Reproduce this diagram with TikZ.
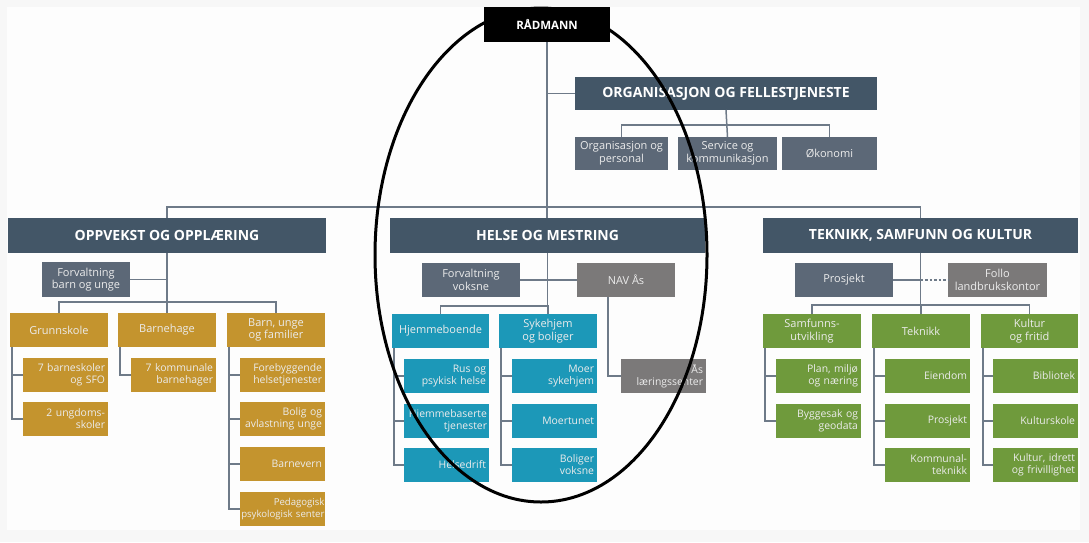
\documentclass[tikz,border=0pt]{standalone}
\usepackage{fontspec}
\setmainfont{Open Sans}
\definecolor{bgout}{HTML}{F7F7F7}
\definecolor{bgin}{HTML}{FDFDFD}
\definecolor{headc}{HTML}{435667}
\definecolor{slatec}{HTML}{5C6877}
\definecolor{greyc}{HTML}{7B7979}
\definecolor{goldc}{HTML}{C4942E}
\definecolor{tealc}{HTML}{1C98B8}
\definecolor{greenc}{HTML}{6F9A3C}
\definecolor{linec}{HTML}{6E7A88}
\definecolor{txtc}{HTML}{ECECEC}
\newcommand\bx[7]{\node[#1, minimum width={#5-#3}, minimum height={#6-#4}] (#2) at ({(#3+#5)/2},{(#4+#6)/2}) {#7};}
\tikzset{
  base/.style={inner sep=0pt, outer sep=0pt, align=center, text=txtc},
  radbox/.style={base, fill=black, text=white, font=\bfseries\fontsize{11.5}{13}\selectfont},
  headbox/.style={base, fill=headc, text=white, font=\bfseries\fontsize{14}{16}\selectfont},
  unit/.style={base, font=\fontsize{11}{12.5}\selectfont},
  item/.style={base, font=\fontsize{10.4}{12}\selectfont, align=right, text width={#1}},
  conn/.style={draw=linec, line width=1.5pt},
}
\begin{document}
\begin{tikzpicture}[x=1pt,y=-1pt]
\useasboundingbox (0,0) rectangle (1089,542);
\fill[bgout] (0,0) rectangle (1089,542);
\fill[bgin] (7,7) rectangle (1080,530);
\coordinate (busy) at (0,207);
\coordinate (ob) at (0,125);
\coordinate (ob2) at (0,302);
\coordinate (hb) at (0,306);
\coordinate (tb) at (0,305);
% top
\bx{radbox}{rad}{484}{7}{610}{42}{RÅDMANN}
\bx{headbox}{org}{575}{77}{877}{110}{ORGANISASJON OG FELLESTJENESTE}
\bx{unit,fill=slatec}{os1}{575}{137}{668}{170}{Organisasjon og\\personal}
\bx{unit,fill=slatec}{os2}{678}{137}{777}{170}{Service og\\kommunikasjon}
\bx{unit,fill=slatec}{os3}{782}{137}{877}{170}{Økonomi}
% heads
\bx{headbox}{opp}{8}{218}{326}{253}{OPPVEKST OG OPPLÆRING}
\bx{headbox}{hel}{390}{218}{705}{253}{HELSE OG MESTRING}
\bx{headbox}{tek}{763}{218}{1078}{253}{TEKNIKK, SAMFUNN OG KULTUR}
% oppvekst
\bx{unit,fill=slatec}{fbu}{42}{262}{130}{297}{Forvaltning\\barn og unge}
\bx{unit,fill=goldc}{gs}{10}{313}{108}{347}{Grunnskole}
\bx{unit,fill=goldc}{bh}{118}{313}{216}{347}{Barnehage}
\bx{unit,fill=goldc}{buf}{227}{313}{325}{347}{Barn, unge\\og familier}
\bx{item=79pt,fill=goldc}{gs1}{23}{358}{108}{392}{7 barneskoler\\og SFO}
\bx{item=79pt,fill=goldc}{gs2}{23}{402}{108}{436}{2 ungdoms-\\skoler}
\bx{item=79pt,fill=goldc}{bh1}{131}{358}{216}{392}{7 kommunale\\barnehager}
\bx{item=79pt,fill=goldc}{bu1}{240}{358}{325}{392}{Forebyggende\\helsetjenester}
\bx{item=79pt,fill=goldc}{bu2}{240}{402}{325}{436}{Bolig og\\avlastning unge}
\bx{item=79pt,fill=goldc}{bu3}{240}{447}{325}{481}{Barnevern}
\bx{item=84pt,fill=goldc,font=\fontsize{9.6}{12}\selectfont}{bu4}{240}{492}{325}{526}{Pedagogisk\\psykologisk senter}
% helse
\bx{unit,fill=slatec}{fv}{422}{263}{520}{297}{Forvaltning\\voksne}
\bx{unit,fill=greyc}{nav}{577}{263}{675}{297}{NAV Ås}
\bx{unit,fill=tealc}{hj}{392}{314}{489}{348}{Hjemmeboende}
\bx{unit,fill=tealc}{sy}{499}{314}{597}{348}{Sykehjem\\og boliger}
\bx{item=79pt,fill=tealc}{hj1}{404}{359}{489}{393}{Rus og\\psykisk helse}
\bx{item=81pt,fill=tealc}{hj2}{404}{404}{489}{438}{Hjemmebaserte\\tjenester}
\bx{item=79pt,fill=tealc}{hj3}{404}{448}{489}{482}{Helsedrift}
\bx{item=79pt,fill=tealc}{sy1}{512}{359}{597}{393}{Moer\\sykehjem}
\bx{item=79pt,fill=tealc}{sy2}{512}{404}{597}{438}{Moertunet}
\bx{item=79pt,fill=tealc}{sy3}{512}{448}{597}{482}{Boliger\\voksne}
\bx{item=79pt,fill=greyc}{als}{621}{359}{706}{393}{Ås\\læringssenter}
% teknikk
\bx{unit,fill=slatec}{pro}{795}{263}{893}{297}{Prosjekt}
\bx{unit,fill=greyc}{fol}{948}{263}{1047}{297}{Follo\\landbrukskontor}
\bx{unit,fill=greenc}{sam}{763}{314}{861}{348}{Samfunns-\\utvikling}
\bx{unit,fill=greenc}{tk}{872}{314}{970}{348}{Teknikk}
\bx{unit,fill=greenc}{kf}{981}{314}{1078}{348}{Kultur\\og fritid}
\bx{item=79pt,fill=greenc}{sa1}{776}{359}{861}{393}{Plan, miljø\\og næring}
\bx{item=79pt,fill=greenc}{sa2}{776}{404}{861}{438}{Byggesak og\\geodata}
\bx{item=79pt,fill=greenc}{tk1}{885}{359}{970}{393}{Eiendom}
\bx{item=79pt,fill=greenc}{tk2}{885}{404}{970}{438}{Prosjekt}
\bx{item=79pt,fill=greenc}{tk3}{885}{448}{970}{482}{Kommunal-\\teknikk}
\bx{item=79pt,fill=greenc}{kf1}{993}{359}{1078}{393}{Bibliotek}
\bx{item=79pt,fill=greenc}{kf2}{993}{404}{1078}{438}{Kulturskole}
\bx{item=79pt,fill=greenc}{kf3}{993}{448}{1078}{482}{Kultur, idrett\\og frivillighet}
% connectors
\draw[conn] (rad.south) -- (rad.south |- hel.north);
\draw[conn] (opp.north) |- (tek.north |- busy) -- (tek.north);
\draw[conn] (rad.south |- org.west) -- (org.west);
\draw[conn] (org.south) -- (os2.north);
\draw[conn] (os1.north) |- (os3.north |- ob) -- (os3.north);
% oppvekst
\draw[conn] (opp.south) -- (bh.north);
\draw[conn] (fbu.east) -- (opp.south |- fbu.east);
\draw[conn] (gs.north) |- (buf.north |- ob2) -- (buf.north);
\draw[conn] ([xshift=2pt]gs.south west) |- (gs2.west);
\draw[conn] ([xshift=2pt]gs.south west |- gs1.west) -- (gs1.west);
\draw[conn] ([xshift=2pt]bh.south west) |- (bh1.west);
\draw[conn] ([xshift=2pt]buf.south west) |- (bu4.west);
\draw[conn] ([xshift=2pt]buf.south west |- bu1.west) -- (bu1.west);
\draw[conn] ([xshift=2pt]buf.south west |- bu2.west) -- (bu2.west);
\draw[conn] ([xshift=2pt]buf.south west |- bu3.west) -- (bu3.west);
% helse
\draw[conn] (hel.south) -- (hel.south |- hb);
\draw[conn] (fv.east) -- (nav.west);
\draw[conn] (hj.north) |- (sy.north |- hb) -- (sy.north);
\draw[conn] ([xshift=2pt]hj.south west) |- (hj3.west);
\draw[conn] ([xshift=2pt]hj.south west |- hj1.west) -- (hj1.west);
\draw[conn] ([xshift=2pt]hj.south west |- hj2.west) -- (hj2.west);
\draw[conn] ([xshift=2pt]sy.south west) |- (sy3.west);
\draw[conn] ([xshift=2pt]sy.south west |- sy1.west) -- (sy1.west);
\draw[conn] ([xshift=2pt]sy.south west |- sy2.west) -- (sy2.west);
\draw[conn] ([xshift=31pt]nav.south west) |- (als.west);
% teknikk
\draw[conn] (tek.south) -- (tek.south |- tb);
\draw[conn] (pro.east) -- (tek.south |- pro.east);
\draw[conn, dash pattern=on 2.5pt off 2pt] (tek.south |- pro.east) -- (fol.west);
\draw[conn] (sam.north) |- (kf.north |- tb) -- (kf.north);
\draw[conn] (tk.north) -- (tk.north |- tb);
\draw[conn] ([xshift=2pt]sam.south west) |- (sa2.west);
\draw[conn] ([xshift=2pt]sam.south west |- sa1.west) -- (sa1.west);
\draw[conn] ([xshift=2pt]tk.south west) |- (tk3.west);
\draw[conn] ([xshift=2pt]tk.south west |- tk1.west) -- (tk1.west);
\draw[conn] ([xshift=2pt]tk.south west |- tk2.west) -- (tk2.west);
\draw[conn] ([xshift=2pt]kf.south west) |- (kf3.west);
\draw[conn] ([xshift=2pt]kf.south west |- kf1.west) -- (kf1.west);
\draw[conn] ([xshift=2pt]kf.south west |- kf2.west) -- (kf2.west);
% ellipse
\draw[line width=3pt, black] (541,255) ellipse [x radius=166pt, y radius=247pt];
\end{tikzpicture}
\end{document}
